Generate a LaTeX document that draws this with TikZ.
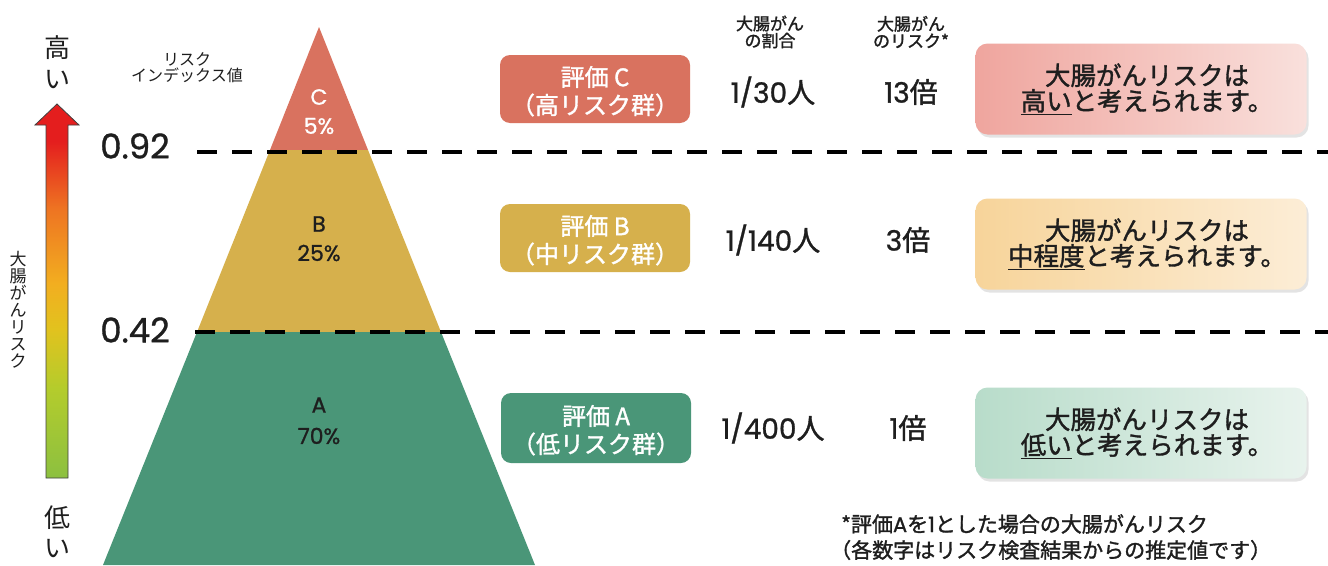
\documentclass[tikz,border=0pt]{standalone}
\usepackage{fontspec}
\setmainfont{Noto Sans CJK JP}[FakeBold=1.4]
\newfontfamily\thin{Noto Sans CJK JP}
\newfontfamily\lat{Poppins}[FakeBold=1.0]
\usetikzlibrary{shadows}
\definecolor{cC}{HTML}{D9725F}
\definecolor{cB}{HTML}{D6B04C}
\definecolor{cA}{HTML}{4A9678}
\definecolor{txt}{HTML}{1E1E1E}
\definecolor{gBot}{HTML}{8CC040}
\definecolor{gYG}{HTML}{B4CC2C}
\definecolor{gY}{HTML}{E2C21E}
\definecolor{gG}{HTML}{F2AE20}
\definecolor{gO}{HTML}{EE7422}
\definecolor{gR}{HTML}{E41E1E}
\definecolor{rC1}{HTML}{EFA59E}
\definecolor{rC2}{HTML}{F9E0DC}
\definecolor{rB1}{HTML}{F7D49A}
\definecolor{rB2}{HTML}{FCEDD6}
\definecolor{rA1}{HTML}{B8DCCA}
\definecolor{rA2}{HTML}{E8F3ED}
% colours placed in the 25bp..75bp window that TikZ maps to the path's box
\pgfdeclareverticalshading{riskgrad}{100bp}{color(0bp)=(gBot); color(25bp)=(gBot); color(37bp)=(gYG); color(45bp)=(gY); color(51bp)=(gG); color(61bp)=(gO); color(70bp)=(gR); color(100bp)=(gR)}
\newcommand{\fs}[1]{\fontsize{#1}{#1}\selectfont}
\begin{document}
\begin{tikzpicture}[x=1pt,y=-1pt,
  lbox/.style={rounded corners=10pt, minimum width=190pt, minimum height=68pt, fill=#1},
  ltxt/.style={text=white, font=\fs{24}, inner sep=0pt},
  rbox/.style={rounded corners=12pt, minimum width=331pt, minimum height=91pt, align=center, font=\fs{25.5}, text=txt, inner sep=0pt, drop shadow={opacity=0.22, shadow xshift=2pt, shadow yshift=-3pt}},
  val/.style={font=\fs{28}, text=txt},
  hdr/.style={font=\fs{17}, text=txt, align=center},
  lvl/.style={font=\lat\fs{34}, text=txt},
  pyr/.style={font=\lat\fs{22}, align=center},
  dline/.style={line width=4.5pt, dash pattern=on 20pt off 15pt, black}
]
\useasboundingbox (0,0) rectangle (1328,565);
\fill[white] (0,0) rectangle (1328,565);

% pyramid
\coordinate (apex) at (319,27);
\coordinate (cl) at (270,150); \coordinate (cr) at (368,150);
\coordinate (bl) at (197,332); \coordinate (br) at (441,332);
\coordinate (al) at (103,565); \coordinate (ar) at (535,565);
\fill[cC] (apex) -- (cr) -- (cl) -- cycle;
\fill[cB] (cl) -- (cr) -- (br) -- (bl) -- cycle;
\fill[cA] (bl) -- (br) -- (ar) -- (al) -- cycle;

\node[pyr, text=white] (pc) at (319,97) {C};
\node[pyr, text=white] (pc2) at (319,126) {5\%};
\node[pyr, text=txt] (pb) at (319,224) {B};
\node[pyr, text=txt] (pb2) at (319,253) {25\%};
\node[pyr, text=txt] (pa) at (319,405) {A};
\node[pyr, text=txt] (pa2) at (319,436) {70\%};

% dashed lines
\coordinate (d1s) at (197,152); \coordinate (d1e) at (1328,152);
\coordinate (d2s) at (195,332); \coordinate (d2e) at (1328,332);
\draw[dline] (d1s) -- (d1e);
\draw[dline] (d2s) -- (d2e);

\node[lvl] (v92) at (135,146) {0.92};
\node[lvl] (v42) at (135,330) {0.42};

% arrow
\draw[shading=riskgrad, draw=black!75, line width=0.8pt]
  (57,104) -- (79,125) -- (68,125) -- (68,478) -- (46,478) -- (46,125) -- (35,125) -- cycle;
\node[font=\thin\fs{26}, text=txt] (hi1) at (57,48) {高};
\node[font=\thin\fs{26}, text=txt] (hi2) at (57,80) {い};
\node[font=\thin\fs{26}, text=txt] (lo1) at (57,518) {低};
\node[font=\thin\fs{26}, text=txt] (lo2) at (57,549) {い};
\node[font=\thin\fs{17}, text=txt, align=center, inner sep=0pt] (vert) at (18,310)
  {\baselineskip=21pt 大\\腸\\が\\ん\\リ\\ス\\ク};

\node[hdr, font=\thin\fs{16}] (rix) at (187,68) {\baselineskip=20pt リスク\\インデックス値};

% headers
\node[hdr] (h1) at (770,32) {\baselineskip=20pt 大腸がん\\の割合};
\node[hdr] (h2) at (911,32) {\baselineskip=20pt 大腸がん\\のリスク*};

% left boxes
\node[lbox=cC] (bc) at (595,89) {};
\node[ltxt] (bc1) at (595,77) {評価 C};
\node[ltxt] (bc2) at (595,105) {（高リスク群）};
\node[lbox=cB] (bb) at (595,238) {};
\node[ltxt] (bb1) at (595,226) {評価 B};
\node[ltxt] (bb2) at (595,254) {（中リスク群）};
\node[lbox=cA, minimum height=70pt] (ba) at (596,428) {};
\node[ltxt] (ba1) at (596,416) {評価 A};
\node[ltxt] (ba2) at (596,444) {（低リスク群）};

% values
\node[val] (n1) at (773,92) {{\lat 1/30}人};
\node[val] (n2) at (773,240) {{\lat 1/140}人};
\node[val] (n3) at (773,428) {{\lat 1/400}人};
\node[val] (m1) at (911,92) {{\lat 13}倍};
\node[val] (m2) at (908,240) {{\lat 3}倍};
\node[val] (m3) at (908,428) {{\lat 1}倍};

% right boxes
\node[rbox, left color=rC1, right color=rC2] (rc) at (1141,89) {\baselineskip=31pt\hspace*{12pt}大腸がんリスクは\\\hspace*{12pt}\underline{高い}と考えられます。};
\node[rbox, left color=rB1, right color=rB2] (rb) at (1141,244) {\baselineskip=31pt\hspace*{12pt}大腸がんリスクは\\\hspace*{12pt}\underline{中程度}と考えられます。};
\node[rbox, left color=rA1, right color=rA2] (ra) at (1141,433) {\baselineskip=31pt\hspace*{12pt}大腸がんリスクは\\\hspace*{12pt}\underline{低い}と考えられます。};

% footnote
\node[font=\fs{21}, text=txt, anchor=west, inner sep=0pt] (f1) at (841,524) {*評価{\lat A}を{\lat 1}とした場合の大腸がんリスク};
\node[font=\fs{21}, text=txt, anchor=west, inner sep=0pt] (f2) at (830,550) {（各数字はリスク検査結果からの推定値です）};
\end{tikzpicture}
\end{document}
